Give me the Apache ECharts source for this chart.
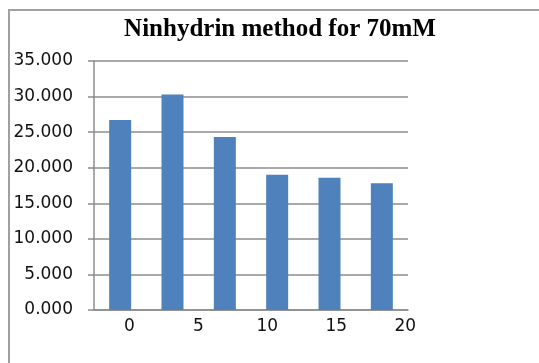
<!DOCTYPE html>
<html>
<head>
<meta charset="utf-8">
<script src="https://cdn.jsdelivr.net/npm/echarts@6/dist/echarts.min.js"></script>
<style>
html,body{margin:0;padding:0;background:#fff;}
#chart{width:539px;height:363px;}
</style>
</head>
<body>
<div id="chart"></div>
<script>
const titleText = 'Ninhydrin method for 70mM';
const categories = ['1', '2', '3', '4', '5', '6'];
const values = [26.7, 30.3, 24.3, 19.0, 18.6, 17.8];
const xTickLabels = [0, 5, 10, 15, 20];
const yTicks = { min: 0, max: 35, interval: 5 };

const chart = echarts.init(document.getElementById('chart'), null, { renderer: 'canvas' });
const gridCol = '#8c8c8c';
const labelFont = { fontFamily: 'DejaVu Sans', fontSize: 17, color: '#111' };

chart.setOption({
  animation: false,
  backgroundColor: '#fff',
  title: {
    text: titleText,
    left: 275, top: 12, textAlign: 'center',
    textStyle: { fontFamily: 'Liberation Serif', fontWeight: 'bold', fontSize: 25, color: '#000' }
  },
  graphic: [
    { type: 'polyline', shape: { points: [[9, 363], [9, 10], [539, 10]] }, style: { stroke: '#a0a0a0', lineWidth: 2, fill: null } }
  ],
  grid: { left: 94, right: 131, top: 61, bottom: 53 },
  xAxis: [
    {
      type: 'category', data: categories,
      axisLine: { lineStyle: { color: gridCol, width: 1.5 } },
      axisTick: { show: false },
      axisLabel: { show: false },
      splitLine: { show: false }
    },
    {
      type: 'value', position: 'bottom',
      min: -2.56, max: 20.2,
      axisLine: { show: false },
      axisTick: { show: false },
      splitLine: { show: false },
      axisLabel: Object.assign({ customValues: xTickLabels, margin: 8, formatter: v => String(v) }, labelFont)
    }
  ],
  yAxis: {
    type: 'value', min: yTicks.min, max: yTicks.max, interval: yTicks.interval,
    axisLine: { show: true, onZero: false, lineStyle: { color: gridCol, width: 1.5 } },
    axisTick: { show: true, length: 6, lineStyle: { color: gridCol, width: 1.5 } },
    splitLine: { lineStyle: { color: gridCol, width: 1.5 } },
    axisLabel: Object.assign({ margin: 21, formatter: v => v.toFixed(3) }, labelFont)
  },
  series: [{
    type: 'bar', xAxisIndex: 0, data: values,
    barWidth: 22,
    itemStyle: { color: '#4F81BD' }
  }]
});
</script>
</body>
</html>
